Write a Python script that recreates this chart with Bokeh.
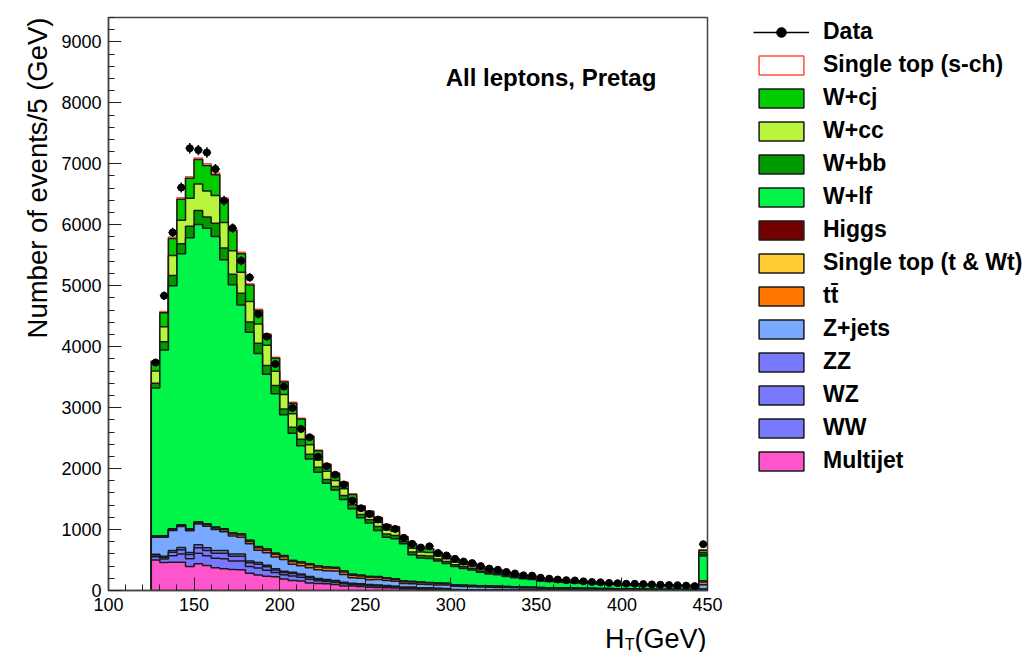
import numpy as np
from bokeh.plotting import figure
from bokeh.layouts import row, column
from bokeh.models import FixedTicker, Label, Legend, LegendItem, Range1d, Title
from bokeh.embed import file_html
from bokeh.resources import INLINE

# ---------------- data (events per 5 GeV bin, H_T from 125 to 450 GeV) ----------------
ht_first_edge = 125
ht_last_edge = 450
bin_width = 5

data = [3740, 4835, 5875, 6610, 7255, 7225, 7185, 6915, 6395, 5945,
        5410, 5135, 4535, 4165, 3715, 3345, 2995, 2650, 2515, 2195,
        2040, 1900, 1740, 1475, 1350, 1255, 1165, 1040, 1010, 865,
        765, 705, 725, 615, 575, 520, 475, 450, 400, 360,
        340, 305, 280, 250, 245, 210, 195, 180, 170, 165,
        150, 140, 135, 125, 120, 112, 110, 106, 100, 96,
        90, 87, 80, 72, 760]

multijet = [500, 460, 465, 465, 395, 440, 410, 375, 355, 345,
            340, 285, 255, 235, 225, 190, 165, 155, 125, 115,
            110, 100, 75, 72, 65, 55, 50, 45, 40, 30,
            30, 25, 22, 18, 15, 0, 0, 0, 0, 0,
            0, 0, 0, 0, 0, 0, 0, 0, 0, 0,
            0, 0, 0, 0, 0, 0, 0, 0, 0, 0,
            0, 0, 0, 0, 0]

ww = [52, 55, 105, 132, 126, 170, 160, 154, 165, 140,
      143, 110, 113, 99, 72, 69, 74, 63, 58, 44,
      38, 35, 34, 26, 24, 24, 22, 20, 16, 14,
      14, 12, 11, 10, 9, 8, 8, 7, 7, 7,
      6, 6, 6, 5, 5, 4, 4, 4, 4, 3,
      3, 3, 3, 3, 3, 2, 2, 2, 2, 2,
      2, 2, 2, 2, 14]

wz = [29, 30, 57, 72, 69, 93, 87, 84, 90, 77,
      78, 60, 62, 54, 39, 38, 41, 35, 32, 24,
      21, 19, 19, 14, 13, 13, 12, 11, 9, 8,
      8, 7, 6, 5, 5, 5, 4, 4, 4, 4,
      3, 3, 3, 3, 3, 3, 3, 2, 2, 2,
      2, 2, 1, 1, 1, 1, 1, 1, 1, 1,
      1, 1, 1, 1, 7]

zz = [14, 15, 28, 36, 35, 47, 43, 42, 45, 38,
      39, 30, 30, 27, 19, 18, 20, 17, 15, 12,
      11, 10, 9, 8, 7, 6, 6, 6, 5, 3,
      3, 3, 3, 3, 2, 2, 2, 2, 1, 1,
      2, 1, 1, 1, 1, 1, 1, 1, 1, 1,
      1, 1, 1, 1, 1, 1, 1, 1, 1, 0,
      0, 0, 0, 0, 4]

zjets = [280, 315, 330, 345, 355, 340, 355, 345, 310, 295,
         275, 280, 200, 205, 195, 195, 130, 135, 145, 145,
         145, 155, 125, 90, 90, 80, 90, 80, 80, 60,
         55, 55, 55, 55, 60, 55, 50, 48, 45, 42,
         40, 38, 36, 34, 32, 30, 28, 26, 25, 24,
         22, 21, 20, 19, 18, 17, 16, 15, 14, 13,
         12, 12, 11, 10, 70]

ttbar = [10, 12, 14, 16, 18, 20, 22, 25, 30, 32,
         35, 38, 40, 42, 44, 45, 46, 46, 46, 45,
         45, 44, 43, 42, 40, 38, 36, 34, 32, 30,
         28, 26, 24, 22, 20, 18, 17, 16, 15, 14,
         13, 12, 11, 10, 10, 9, 8, 8, 7, 7,
         6, 6, 5, 5, 5, 4, 4, 4, 3, 3,
         3, 3, 2, 2, 45]

stop_twt = [8, 9, 10, 10, 11, 12, 13, 14, 15, 16,
            18, 18, 18, 18, 17, 17, 16, 16, 15, 15,
            14, 14, 13, 13, 12, 12, 11, 11, 10, 10,
            9, 9, 8, 8, 7, 7, 6, 6, 5, 5,
            5, 4, 4, 4, 3, 3, 3, 3, 2, 2,
            2, 2, 2, 2, 1, 1, 1, 1, 1, 1,
            1, 1, 1, 1, 15]

higgs = [1, 1, 2, 2, 2, 2, 2, 2, 2, 2,
         2, 2, 2, 2, 2, 2, 1, 1, 1, 1,
         1, 1, 1, 1, 1, 1, 1, 1, 1, 1,
         1, 1, 1, 1, 1, 0, 0, 0, 0, 0,
         0, 0, 0, 0, 0, 0, 0, 0, 0, 0,
         0, 0, 0, 0, 0, 0, 0, 0, 0, 0,
         0, 0, 0, 0, 2]

wlf = [2430, 3050, 3990, 4445, 4775, 4880, 4850, 4765, 4415, 4070,
       3755, 3415, 3170, 2865, 2615, 2310, 2085, 1905, 1720, 1540,
       1375, 1270, 1175, 1075, 940, 880, 755, 665, 655, 610,
       440, 397, 397, 360, 323, 298, 274, 255, 222, 199,
       190, 166, 150, 135, 125, 105, 101, 95, 90, 85,
       81, 75, 70, 66, 64, 61, 59, 56, 54, 53,
       50, 47, 47, 44, 410]

wbb = [75, 135, 165, 165, 190, 230, 185, 220, 190, 175,
       190, 165, 165, 145, 135, 95, 100, 110, 80, 80,
       60, 60, 65, 70, 55, 50, 65, 55, 55, 35,
       45, 40, 40, 36, 32, 30, 27, 26, 22, 20,
       19, 17, 15, 14, 12, 10, 10, 9, 9, 8,
       8, 7, 7, 7, 6, 6, 6, 5, 5, 5,
       5, 4, 4, 4, 27]

wcc = [200, 245, 330, 385, 460, 435, 425, 455, 420, 385,
       345, 340, 315, 330, 235, 235, 220, 165, 155, 120,
       135, 95, 110, 95, 75, 55, 70, 70, 70, 35,
       62, 56, 55, 50, 45, 42, 39, 37, 32, 29,
       27, 24, 22, 19, 18, 15, 14, 14, 13, 12,
       11, 11, 10, 9, 9, 9, 8, 8, 7, 7,
       7, 7, 6, 6, 27]

wcj = [155, 230, 280, 345, 325, 400, 420, 340, 375, 330,
       305, 270, 225, 170, 210, 205, 175, 165, 135, 150,
       110, 115, 100, 70, 60, 80, 75, 75, 70, 45,
       68, 62, 62, 56, 50, 50, 46, 42, 37, 33,
       31, 27, 23, 22, 20, 17, 15, 15, 14, 14,
       12, 12, 11, 11, 10, 10, 8, 8, 8, 8,
       8, 8, 7, 7, 38]

stop_s = [15, 18, 22, 25, 27, 28, 28, 27, 26, 24,
          22, 21, 20, 18, 17, 16, 15, 14, 13, 12,
          11, 11, 10, 10, 9, 9, 8, 8, 8, 7,
          7, 7, 6, 6, 6, 5, 5, 5, 5, 4,
          4, 4, 4, 3, 3, 3, 3, 3, 3, 2,
          2, 2, 2, 2, 2, 2, 2, 2, 2, 1,
          1, 1, 1, 1, 10]

x_ticks = [100, 150, 200, 250, 300, 350, 400, 450]
y_ticks = [0, 1000, 2000, 3000, 4000, 5000, 6000, 7000, 8000, 9000]

TTBAR = "t\u0074\u0304"
# stacking order bottom -> top: (legend label, values, fill colour, line colour)
stack = [
    ("Multijet", multijet, "#ff55cc", "#1a1a1a"),
    ("WW", ww, "#7878ff", "#1a1a1a"),
    ("WZ", wz, "#7878ff", "#1a1a1a"),
    ("ZZ", zz, "#7878ff", "#1a1a1a"),
    ("Z+jets", zjets, "#78a8ff", "#1a1a1a"),
    (TTBAR, ttbar, "#ff7700", "#1a1a1a"),
    ("Single top (t & Wt)", stop_twt, "#ffcc33", "#1a1a1a"),
    ("Higgs", higgs, "#720000", "#1a1a1a"),
    ("W+lf", wlf, "#00f548", "#1a1a1a"),
    ("W+bb", wbb, "#009a00", "#1a1a1a"),
    ("W+cc", wcc, "#b8f53c", "#1a1a1a"),
    ("W+cj", wcj, "#00cc00", "#1a1a1a"),
    ("Single top (s-ch)", stop_s, "#ffffff", "#ff5040"),
]

FONT = "Liberation Sans"
MAIN_W = 735

# ---------------- main figure ----------------
p = figure(width=MAIN_W, height=619, output_backend="svg", toolbar_location=None, title=None,
           x_range=Range1d(100, 450), y_range=Range1d(0, 9400),
           min_border_left=108, min_border_right=MAIN_W - 707, min_border_top=17,
           min_border_bottom=29)
p.background_fill_color = "white"
p.border_fill_color = "white"
p.xgrid.visible = False
p.ygrid.visible = False
p.outline_line_color = "#444444"
p.outline_line_width = 1.5

edges = np.arange(ht_first_edge, ht_last_edge + bin_width, bin_width).astype(float)
centers = edges[:-1] + bin_width / 2.0

tops = []
cum = np.zeros(len(edges) - 1)
for name, vals, fc, lc in stack:
    cum = cum + np.asarray(vals, dtype=float)
    tops.append(cum.copy())

sx = np.concatenate([[edges[0]], np.repeat(edges, 2)[1:-1], [edges[-1]]])
outlines = {}
for (name, vals, fc, lc), top in reversed(list(zip(stack, tops))):
    sy = np.concatenate([[0.0], np.repeat(top, 2), [0.0]])
    outlines[name] = sy
    p.patch(sx, sy, fill_color=fc, line_color=lc, line_width=1.5)

d = np.asarray(data, dtype=float)
err = np.sqrt(d)
p.segment(x0=centers - bin_width / 2.0, y0=d, x1=centers + bin_width / 2.0, y1=d,
          line_color="black", line_width=1.5)
p.segment(x0=centers, y0=d - err, x1=centers, y1=d + err, line_color="black", line_width=1.5)
p.scatter(centers, d, size=7, marker="circle", fill_color="black", line_color="black")

p.xaxis.ticker = FixedTicker(ticks=x_ticks, minor_ticks=list(range(100, 451, 10)))
p.yaxis.ticker = FixedTicker(ticks=y_ticks, minor_ticks=list(range(0, 9401, 200)))
for ax in (p.xaxis[0], p.yaxis[0]):
    ax.major_tick_in = 13
    ax.major_tick_out = 0
    ax.minor_tick_in = 6
    ax.minor_tick_out = 0
    ax.major_tick_line_color = "#222222"
    ax.minor_tick_line_color = "#222222"
    ax.axis_line_color = "#444444"
    ax.axis_line_width = 1.5
    ax.major_label_text_font = FONT
    ax.major_label_text_font_size = "18px"
    ax.major_label_text_color = "black"
    ax.major_label_standoff = 7

p.add_layout(Title(text="Number of events/5 (GeV)", align="right", text_font=FONT,
                   text_font_size="27.5px", text_font_style="normal", text_color="black",
                   standoff=12), "left")

p.add_layout(Label(x=297, y=8416, text="All leptons, Pretag", text_align="left",
                   text_baseline="middle", text_font=FONT, text_font_size="24px",
                   text_font_style="bold", text_color="black"))

# ---------------- x-axis title strip (H_T with subscript), frame aligned with main ----------------
strip = figure(width=MAIN_W, height=33, output_backend="svg", toolbar_location=None, title=None,
               x_range=Range1d(100, 450), y_range=Range1d(0, 33),
               x_axis_location=None, y_axis_location=None, min_border=0)
strip.grid.visible = False
strip.outline_line_color = None
strip.background_fill_alpha = 0
strip.add_layout(Label(x=449.4, y=14, text="(GeV)", text_align="right", text_baseline="alphabetic",
                       text_font=FONT, text_font_size="27px", text_color="black"))
strip.add_layout(Label(x=407.4, y=8, text="T", text_align="right", text_baseline="alphabetic",
                       text_font=FONT, text_font_size="16px", text_color="black"))
strip.add_layout(Label(x=401.5, y=14, text="H", text_align="right", text_baseline="alphabetic",
                       text_font=FONT, text_font_size="27px", text_color="black"))

# ---------------- legend panel ----------------
lp = figure(width=1034 - MAIN_W, height=652, output_backend="svg", toolbar_location=None,
            title=None, x_range=Range1d(0, 1), y_range=Range1d(0, 1),
            x_axis_location=None, y_axis_location=None, min_border=0)
lp.grid.visible = False
lp.outline_line_color = None
# legend swatches: same histograms, outside this panel's visible range
proxy = {}
for name, vals, fc, lc in stack:
    proxy[name] = lp.patch(sx, outlines[name], fill_color=fc, line_color=lc, line_width=1.5)
lr_h = lp.segment(x0=centers - bin_width / 2.0, y0=d, x1=centers + bin_width / 2.0, y1=d,
                  line_color="black", line_width=1.5)
lr_pt = lp.scatter(centers, d, size=6, marker="circle", fill_color="black", line_color="black")

legend_order = ["Single top (s-ch)", "W+cj", "W+cc", "W+bb", "W+lf", "Higgs",
                "Single top (t & Wt)", TTBAR, "Z+jets", "ZZ", "WZ", "WW", "Multijet"]
items = [LegendItem(label="Data", renderers=[lr_h, lr_pt])]
items += [LegendItem(label=n, renderers=[proxy[n]]) for n in legend_order]
legend = Legend(items=items, location="top_left", glyph_width=56, glyph_height=24,
                label_height=24, spacing=6, padding=5, margin=18, label_standoff=14,
                label_text_font=FONT, label_text_font_size="23px", label_text_font_style="bold",
                label_text_color="black", border_line_color=None, background_fill_alpha=0)
lp.add_layout(legend)

layout = row(column(p, strip), lp)
open("out.html", "w").write(file_html(layout, INLINE))
